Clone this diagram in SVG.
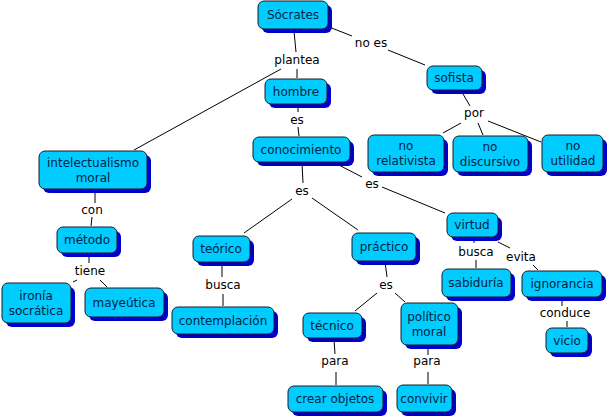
<svg xmlns="http://www.w3.org/2000/svg" width="609" height="419" viewBox="0 0 609 419">
<defs>
<style>
.sh{fill:#0000cc}
.bx{fill:#00ccff;stroke:#1a1a2a;stroke-width:1}
.t{font-family:"DejaVu Sans",Verdana,sans-serif;font-size:12px;fill:#002244;text-anchor:middle}
.l{font-family:"DejaVu Sans",Verdana,sans-serif;font-size:12px;fill:#000;text-anchor:middle}
#connectors line{stroke:#000;stroke-width:1}
</style>
</defs>
<rect width="609" height="419" fill="#fff"/>
<g id="connectors">
<line x1="294" y1="31" x2="296" y2="52"/>
<line x1="297" y1="69" x2="297" y2="78"/>
<line x1="281" y1="69" x2="134" y2="150"/>
<line x1="298" y1="104" x2="298" y2="112"/>
<line x1="298" y1="127" x2="299" y2="136"/>
<line x1="329" y1="27" x2="352" y2="36"/>
<line x1="388" y1="50" x2="425" y2="65"/>
<line x1="463" y1="94" x2="470" y2="106"/>
<line x1="461" y1="123" x2="443" y2="133"/>
<line x1="478" y1="123" x2="483" y2="135"/>
<line x1="488" y1="121" x2="541" y2="142"/>
<line x1="302" y1="163" x2="303" y2="183"/>
<line x1="292" y1="199" x2="244" y2="233"/>
<line x1="312" y1="198" x2="358" y2="230"/>
<line x1="335" y1="163" x2="362" y2="177"/>
<line x1="382" y1="187" x2="445" y2="213"/>
<line x1="95" y1="190" x2="95" y2="203"/>
<line x1="92" y1="217" x2="91" y2="226"/>
<line x1="89" y1="254" x2="89" y2="263"/>
<line x1="77" y1="280" x2="73" y2="282"/>
<line x1="100" y1="280" x2="107" y2="287"/>
<line x1="222" y1="263" x2="222" y2="277"/>
<line x1="223" y1="294" x2="223" y2="306"/>
<line x1="385" y1="262" x2="387" y2="277"/>
<line x1="377" y1="293" x2="355" y2="311"/>
<line x1="395" y1="293" x2="405" y2="302"/>
<line x1="474" y1="238" x2="474" y2="243"/>
<line x1="476" y1="260" x2="476" y2="268"/>
<line x1="498" y1="242" x2="510" y2="248"/>
<line x1="533" y1="265" x2="538" y2="270"/>
<line x1="562" y1="298" x2="562" y2="306"/>
<line x1="567" y1="321" x2="567" y2="327"/>
<line x1="334" y1="339" x2="335" y2="354"/>
<line x1="336" y1="372" x2="336" y2="385"/>
<line x1="428" y1="346" x2="428" y2="355"/>
<line x1="428" y1="372" x2="428" y2="384"/>
</g>
<g id="labels">
<text class="l" x="297" y="64">plantea</text>
<text class="l" x="371" y="47">no es</text>
<text class="l" x="297" y="124">es</text>
<text class="l" x="474" y="117">por</text>
<text class="l" x="92" y="214">con</text>
<text class="l" x="90" y="275">tiene</text>
<text class="l" x="302" y="195">es</text>
<text class="l" x="372" y="188">es</text>
<text class="l" x="223" y="289">busca</text>
<text class="l" x="386" y="289">es</text>
<text class="l" x="476" y="256">busca</text>
<text class="l" x="521" y="261">evita</text>
<text class="l" x="565" y="317">conduce</text>
<text class="l" x="335" y="365">para</text>
<text class="l" x="427" y="365">para</text>
</g>
<g id="n-socrates"><rect class="sh" x="262" y="5" width="70" height="28" rx="6"/><rect class="bx" x="258" y="1" width="70" height="28" rx="6"/><text class="t" x="293" y="19">Sócrates</text></g>
<g id="n-hombre"><rect class="sh" x="269" y="83" width="62" height="25" rx="6"/><rect class="bx" x="265" y="79" width="62" height="25" rx="6"/><text class="t" x="296" y="96">hombre</text></g>
<g id="n-conocimiento"><rect class="sh" x="257" y="141" width="97" height="25" rx="6"/><rect class="bx" x="253" y="137" width="97" height="25" rx="6"/><text class="t" x="301" y="154">conocimiento</text></g>
<g id="n-sofista"><rect class="sh" x="431" y="70" width="55" height="24" rx="6"/><rect class="bx" x="427" y="66" width="55" height="24" rx="6"/><text class="t" x="454" y="82">sofista</text></g>
<g id="n-norelativista"><rect class="sh" x="372" y="139" width="76" height="37" rx="6"/><rect class="bx" x="368" y="135" width="76" height="37" rx="6"/><text class="t" x="406" y="150">no</text><text class="t" x="406" y="165">relativista</text></g>
<g id="n-nodiscursivo"><rect class="sh" x="457" y="140" width="75" height="36" rx="6"/><rect class="bx" x="453" y="136" width="75" height="36" rx="6"/><text class="t" x="490" y="151">no</text><text class="t" x="490" y="166">discursivo</text></g>
<g id="n-noutilidad"><rect class="sh" x="546" y="139" width="61" height="37" rx="6"/><rect class="bx" x="542" y="135" width="61" height="37" rx="6"/><text class="t" x="573" y="150">no</text><text class="t" x="573" y="165">utilidad</text></g>
<g id="n-intelectualismo"><rect class="sh" x="43" y="155" width="108" height="38" rx="6"/><rect class="bx" x="39" y="151" width="108" height="38" rx="6"/><text class="t" x="93" y="167">intelectualismo</text><text class="t" x="93" y="182">moral</text></g>
<g id="n-metodo"><rect class="sh" x="61" y="231" width="60" height="26" rx="6"/><rect class="bx" x="57" y="227" width="60" height="26" rx="6"/><text class="t" x="87" y="244">método</text></g>
<g id="n-ironia"><rect class="sh" x="6" y="287" width="69" height="40" rx="6"/><rect class="bx" x="2" y="283" width="69" height="40" rx="6"/><text class="t" x="36" y="300">ironía</text><text class="t" x="36" y="315">socrática</text></g>
<g id="n-mayeutica"><rect class="sh" x="89" y="292" width="79" height="29" rx="6"/><rect class="bx" x="85" y="288" width="79" height="29" rx="6"/><text class="t" x="124" y="307">mayeútica</text></g>
<g id="n-teorico"><rect class="sh" x="197" y="240" width="57" height="26" rx="6"/><rect class="bx" x="193" y="236" width="57" height="26" rx="6"/><text class="t" x="221" y="253">teórico</text></g>
<g id="n-contemplacion"><rect class="sh" x="176" y="311" width="102" height="27" rx="6"/><rect class="bx" x="172" y="307" width="102" height="27" rx="6"/><text class="t" x="223" y="325">contemplación</text></g>
<g id="n-practico"><rect class="sh" x="356" y="237" width="64" height="28" rx="6"/><rect class="bx" x="352" y="233" width="64" height="28" rx="6"/><text class="t" x="384" y="251">práctico</text></g>
<g id="n-virtud"><rect class="sh" x="451" y="217" width="51" height="24" rx="6"/><rect class="bx" x="447" y="213" width="51" height="24" rx="6"/><text class="t" x="472" y="229">virtud</text></g>
<g id="n-sabiduria"><rect class="sh" x="446" y="273" width="69" height="28" rx="6"/><rect class="bx" x="442" y="269" width="69" height="28" rx="6"/><text class="t" x="476" y="287">sabiduría</text></g>
<g id="n-ignorancia"><rect class="sh" x="526" y="275" width="80" height="26" rx="6"/><rect class="bx" x="522" y="271" width="80" height="26" rx="6"/><text class="t" x="562" y="288">ignorancia</text></g>
<g id="n-vicio"><rect class="sh" x="550" y="332" width="42" height="25" rx="6"/><rect class="bx" x="546" y="328" width="42" height="25" rx="6"/><text class="t" x="567" y="345">vicio</text></g>
<g id="n-tecnico"><rect class="sh" x="307" y="317" width="59" height="25" rx="6"/><rect class="bx" x="303" y="313" width="59" height="25" rx="6"/><text class="t" x="332" y="330">técnico</text></g>
<g id="n-politico"><rect class="sh" x="405" y="307" width="57" height="42" rx="6"/><rect class="bx" x="401" y="303" width="57" height="42" rx="6"/><text class="t" x="429" y="321">político</text><text class="t" x="429" y="336">moral</text></g>
<g id="n-crear"><rect class="sh" x="292" y="390" width="95" height="26" rx="6"/><rect class="bx" x="288" y="386" width="95" height="26" rx="6"/><text class="t" x="335" y="403">crear objetos</text></g>
<g id="n-convivir"><rect class="sh" x="401" y="389" width="55" height="27" rx="6"/><rect class="bx" x="397" y="385" width="55" height="27" rx="6"/><text class="t" x="424" y="403">convivir</text></g>
</svg>
